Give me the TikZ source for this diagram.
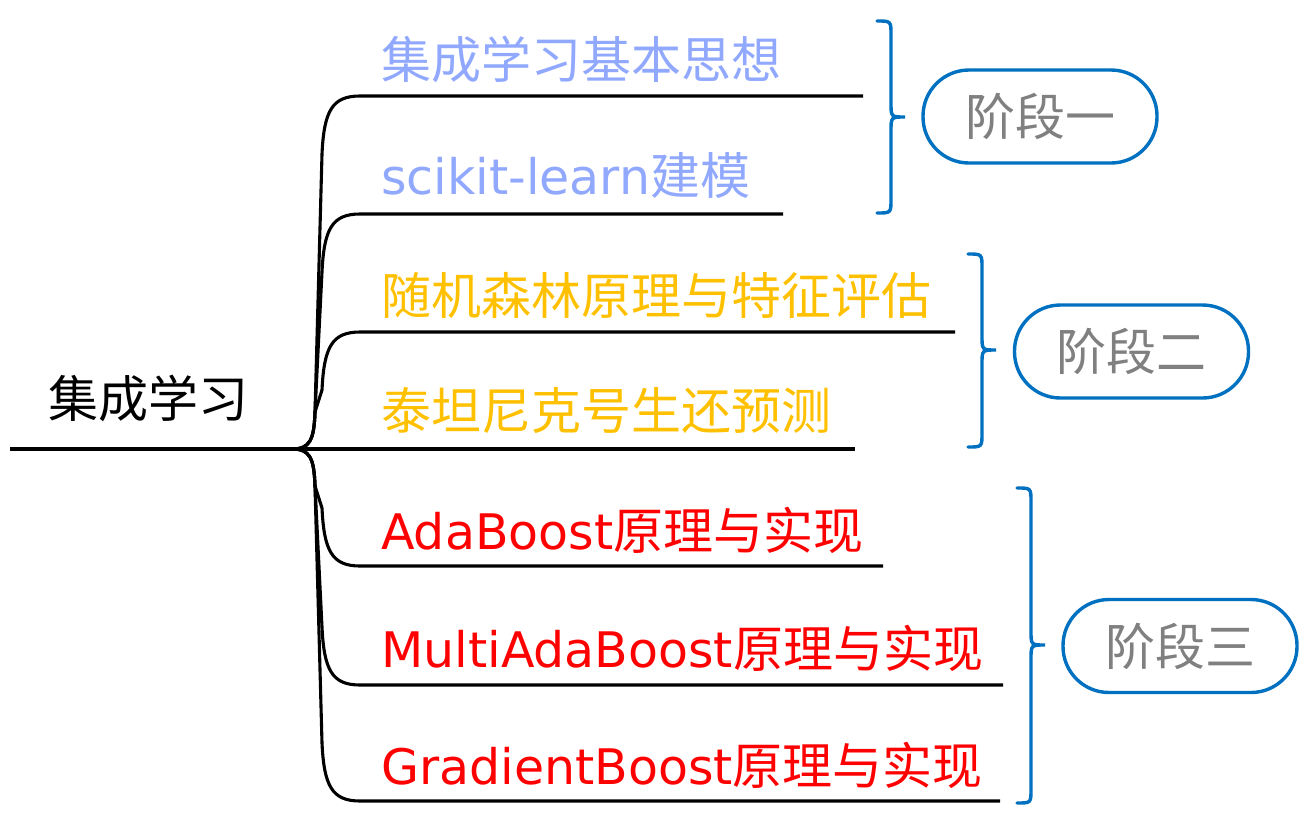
\documentclass[tikz,border=0pt]{standalone}
\usepackage{fontspec}
\setmainfont{Noto Sans CJK SC}
\newfontfamily\lat[Scale=0.98]{DejaVu Sans}
\definecolor{lblue}{HTML}{91A8FF}
\definecolor{lgold}{HTML}{FFC000}
\definecolor{lred}{HTML}{FF0000}
\definecolor{stageblue}{HTML}{0070C0}
\definecolor{stagegray}{HTML}{808080}
\newcommand\mybrace[4]{%
  \draw[bracestyle] (#1,#2) .. controls ({#1+14},#2) .. ({#1+14},{#2+14})
    -- ({#1+14},{#4-14}) .. controls ({#1+14},#4) .. ({#1+28},#4)
    .. controls ({#1+14},#4) .. ({#1+14},{#4+14})
    -- ({#1+14},{#3-14}) .. controls ({#1+14},#3) .. (#1,#3);}
\newcommand\limb[4]{% start coord, end coord, y, direction
  \draw[branch] (J) .. controls (310,449) and (314,{449-9*#4}) .. (315,{449-37*#4})
    -- (322,{#3+58*#4}) .. controls (324,{#3+15*#4}) and (332,#3) .. (#1) -- (#2);}
\begin{document}
\begin{tikzpicture}[x=1pt,y=-1pt,
  branch/.style={line width=3.1pt, black},
  lbl/.style={anchor=base west, inner sep=0pt, font=\fontsize{50}{60}\selectfont},
  stage/.style={draw=stageblue, line width=3.4pt, rounded corners=46pt,
    minimum width=234pt, minimum height=93pt, inner sep=0pt,
    text=stagegray, font=\fontsize{50}{60}\selectfont},
  bracestyle/.style={stageblue, line width=3.4pt, line cap=round}]
\useasboundingbox (0,0) rectangle (1308,812);
% junction and line ends
\coordinate (J) at (292,449);
\coordinate (r0) at (10,449);
\coordinate (s1) at (360,96);  \coordinate (e1) at (863,96);
\coordinate (s2) at (360,214); \coordinate (e2) at (783,214);
\coordinate (s3) at (360,332); \coordinate (e3) at (955,332);
\coordinate (e4) at (855,449);
\coordinate (s5) at (360,566); \coordinate (e5) at (883,566);
\coordinate (s6) at (360,685); \coordinate (e6) at (1003,685);
\coordinate (s7) at (360,801); \coordinate (e7) at (1000,801);
% texts
\node[lbl] (root) at (48,417) {集成学习};
\node[lbl, text=lblue] (t1) at (381,78) {集成学习基本思想};
\node[lbl, text=lblue] (t2) at (381,194) {{\lat scikit-learn}建模};
\node[lbl, text=lgold] (t3) at (381,314) {随机森林原理与特征评估};
\node[lbl, text=lgold] (t4) at (381,429) {泰坦尼克号生还预测};
\node[lbl, text=lred] (t5) at (381,549) {{\lat AdaBoost}原理与实现};
\node[lbl, text=lred] (t6) at (381,667) {{\lat MultiAdaBoost}原理与实现};
\node[lbl, text=lred] (t7) at (381,784) {{\lat GradientBoost}原理与实现};
% lines
\draw[branch] (r0) -- (J) -- (e4);
\limb{s1}{e1}{96}{1}
\limb{s2}{e2}{214}{1}
\limb{s3}{e3}{332}{1}
\limb{s5}{e5}{566}{-1}
\limb{s6}{e6}{685}{-1}
\limb{s7}{e7}{801}{-1}
% braces
\mybrace{877}{21}{213}{117}
\mybrace{968}{254}{447}{350}
\mybrace{1017}{488}{803}{645}
% stages
\node[stage] (p1) at (1040,116.5) {阶段一};
\node[stage] (p2) at (1131.5,351.5) {阶段二};
\node[stage] (p3) at (1180,646) {阶段三};
\end{tikzpicture}
\end{document}
